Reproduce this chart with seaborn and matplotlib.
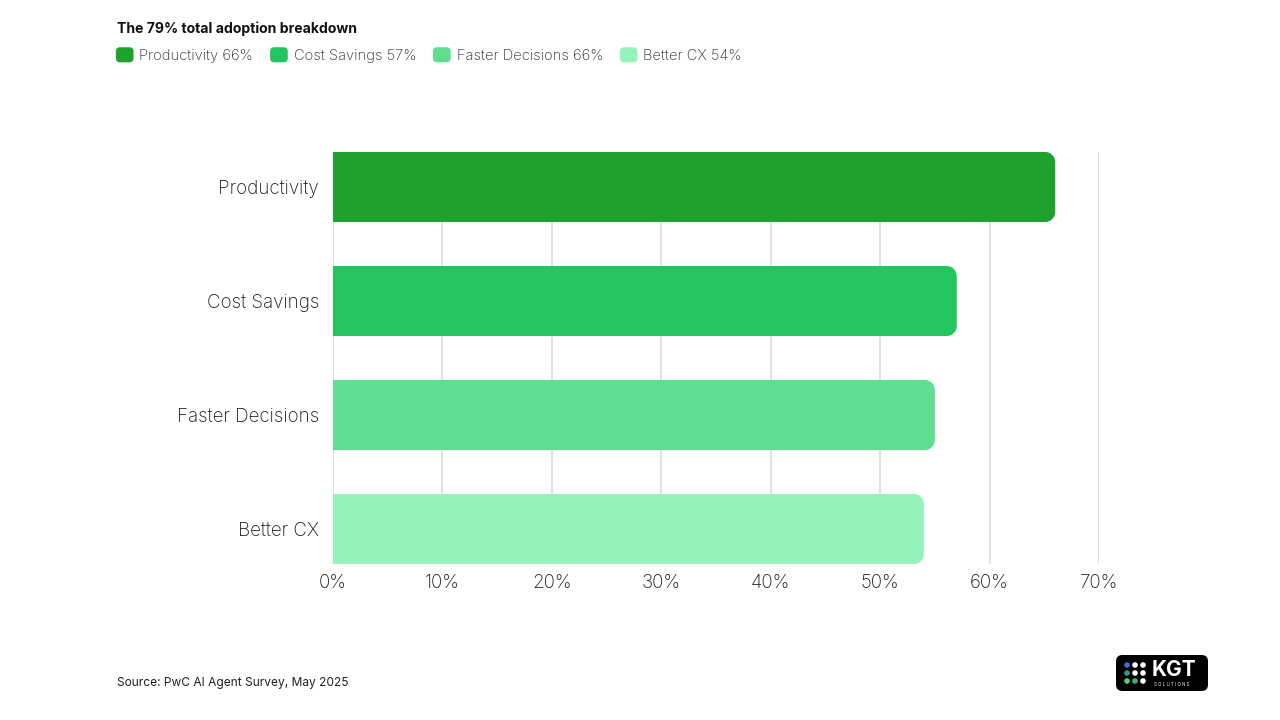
import matplotlib
matplotlib.use("Agg")
import matplotlib.pyplot as plt
import seaborn as sns
import pandas as pd
from matplotlib.patches import FancyBboxPatch, PathPatch, Ellipse, Patch
from matplotlib.path import Path
from matplotlib.legend_handler import HandlerPatch

categories = ["Productivity", "Cost Savings", "Faster Decisions", "Better CX"]
values = [66, 57, 55, 54]
legend_labels = ["Productivity 66%", "Cost Savings 57%", "Faster Decisions 66%", "Better CX 54%"]
colors = ["#1fa12e", "#22c55e", "#5fde8f", "#96f2bb"]
xticks = [0, 10, 20, 30, 40, 50, 60, 70]
xtick_labels = ["0%", "10%", "20%", "30%", "40%", "50%", "60%", "70%"]

sns.set_theme(style="white")
plt.rcParams["font.family"] = ["Inter", "DejaVu Sans"]

fig = plt.figure(figsize=(12.8, 7.2), dpi=100)
fig.patch.set_facecolor("white")
ax = fig.add_axes([333 / 1280, 1 - 564 / 720, (1099 - 333) / 1280, (564 - 152) / 720])
ax.set_facecolor("white")

df = pd.DataFrame({"cat": categories, "val": values})
sns.barplot(data=df, y="cat", x="val", hue="cat", palette=colors, order=categories,
            hue_order=categories, width=0.614, legend=False, ax=ax, zorder=3,
            saturation=1)

ax.set_xlim(0, 70)
ax.set_ylim(3.307, -0.307)
ax.set_xticks(xticks)
ax.set_xticklabels(xtick_labels)
ax.grid(axis="x", color="#d9d9d9", linewidth=1.1, zorder=0)
ax.grid(axis="y", visible=False)
ax.set_axisbelow(True)
for s in ax.spines.values():
    s.set_visible(False)
ax.set_xlabel("")
ax.set_ylabel("")
ax.tick_params(axis="x", length=0, pad=7, labelsize=13.5, labelcolor="#1a1a1a")
ax.tick_params(axis="y", length=0, pad=10, labelsize=13.5, labelcolor="#1a1a1a")
for t in ax.get_xticklabels() + ax.get_yticklabels():
    t.set_fontweight("light")

# rounded right corners on bars
rx = 10 / 109.43 * 10
ry = 10 / 114.0
for p in list(ax.patches):
    x0, y0 = p.get_x(), p.get_y()
    w, h = p.get_width(), p.get_height()
    x1, y1 = x0 + w, y0 + h
    k = 0.5523
    verts = [(x0, y0), (x1 - rx, y0),
             (x1 - rx + k * rx, y0), (x1, y0 + ry - k * ry), (x1, y0 + ry),
             (x1, y1 - ry),
             (x1, y1 - ry + k * ry), (x1 - rx + k * rx, y1), (x1 - rx, y1),
             (x0, y1), (x0, y0)]
    codes = [Path.MOVETO, Path.LINETO,
             Path.CURVE4, Path.CURVE4, Path.CURVE4,
             Path.LINETO,
             Path.CURVE4, Path.CURVE4, Path.CURVE4,
             Path.LINETO, Path.CLOSEPOLY]
    newp = PathPatch(Path(verts, codes), facecolor=p.get_facecolor(), edgecolor="none", zorder=3)
    p.remove()
    ax.add_patch(newp)

# title
fig.text(117 / 1280, 1 - 29 / 720, "The 79% total adoption breakdown", fontsize=10.1,
         fontweight="bold", color="#111111", va="center", ha="left")

# legend
def make_rounded(legend, orig_handle, xdescent, ydescent, width, height, fontsize):
    return FancyBboxPatch((-xdescent, -ydescent), width, height,
                          boxstyle="round,pad=0,rounding_size=3")

handles = [Patch(facecolor=c, edgecolor="none") for c in colors]
leg = fig.legend(handles, legend_labels, loc="center left",
                 bbox_to_anchor=(110 / 1280, 1 - 55 / 720), ncol=4, frameon=False,
                 fontsize=10.6, handlelength=1.2, handleheight=1.2, handletextpad=0.4,
                 columnspacing=1.15, borderaxespad=0,
                 handler_map={Patch: HandlerPatch(patch_func=make_rounded)})
for t in leg.get_texts():
    t.set_color("#2a2a2a")
    t.set_fontweight("light")

# source
fig.text(117 / 1280, 1 - 683 / 720, "Source: PwC AI Agent Survey, May 2025", fontsize=8.6,
         color="#222222", va="center", ha="left")

# logo
lx0, ly0, lw, lh = 1116 / 1280, 1 - 691 / 720, 92 / 1280, 36 / 720
fig.patches.append(FancyBboxPatch((lx0, ly0), lw, lh, boxstyle="round,pad=0,rounding_size=0.005",
                                  transform=fig.transFigure, facecolor="#000000",
                                  edgecolor="none", mutation_aspect=1280 / 720))
dot_cols = [["#3b6fd6", "#ffffff", "#ffffff"],
            ["#2e9c8a", "#ffffff", "#ffffff"],
            ["#4fd27a", "#3fb07a", "#ffffff"]]
for r in range(3):
    for c in range(3):
        cx = (1127 + c * 8) / 1280
        cy = 1 - (665 + r * 8) / 720
        fig.patches.append(Ellipse((cx, cy), 5.6 / 1280, 5.6 / 720, transform=fig.transFigure,
                                   facecolor=dot_cols[r][c], edgecolor="none"))
fig.text(1152 / 1280, 1 - 670 / 720, "KGT", fontsize=15, fontweight="bold", color="white",
         va="center", ha="left")
fig.text(1154 / 1280, 1 - 684 / 720, "S O L U T I O N S", fontsize=3.2, color="white",
         va="center", ha="left")

fig.savefig("out.png", dpi=100, facecolor="white")
